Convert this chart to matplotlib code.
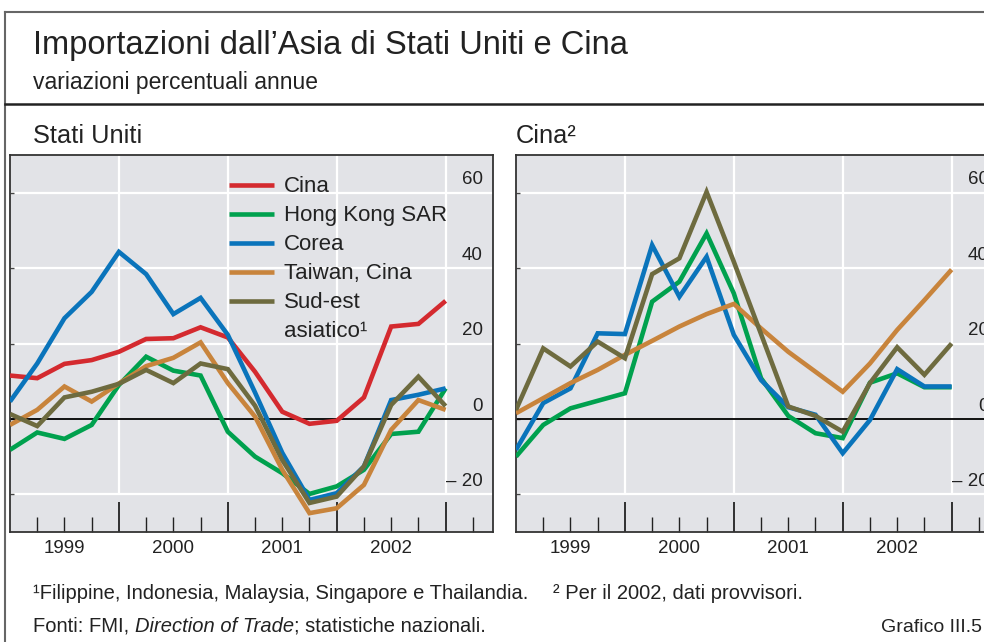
import numpy as np
import pandas as pd
import matplotlib
matplotlib.use('Agg')
import matplotlib.pyplot as plt
import matplotlib.transforms as mtransforms
from matplotlib.lines import Line2D
from matplotlib.text import Annotation

plt.rcParams['font.family'] = ['Liberation Sans', 'DejaVu Sans']

# quarterly observations 1998Q4 .. 2002Q4, plotted at quarter end
periods = pd.period_range('1998Q4', '2002Q4', freq='Q')
xq = np.asarray(periods.year + periods.quarter / 4.0, dtype=float)

series_names = ['Cina', 'Hong Kong SAR', 'Corea', 'Taiwan, Cina', 'Sud-est']
series_colors = ['#d42a2f', '#00a14e', '#0a74bb', '#c8843c', '#6e6b3f']

# Stati Uniti: imports from ...
us_cina = [11.5, 10.8, 14.6, 15.6, 17.8, 21.2, 21.4, 24.3, 21.6, 12.5, 1.9, -1.3, -0.5, 5.7, 24.5, 25.2, 31.3]
us_hk = [-8.2, -3.6, -5.3, -1.6, 9.0, 16.5, 12.8, 11.5, -3.4, -10.0, -14.4, -19.9, -17.9, -13.5, -4.0, -3.4, 8.1]
us_corea = [4.6, 14.7, 26.7, 33.7, 44.3, 38.4, 27.8, 32.1, 22.3, 7.0, -9.0, -21.5, -19.7, -12.6, 5.0, 6.4, 8.1]
us_taiwan = [-1.6, 2.4, 8.6, 4.6, 9.4, 14.0, 16.2, 20.3, 9.5, 0.6, -13.5, -25.0, -23.7, -17.5, -2.9, 5.0, 2.4]
us_sudest = [1.3, -1.9, 5.7, 7.2, 9.3, 13.0, 9.5, 14.7, 13.2, 3.5, -10.9, -22.3, -20.6, -12.6, 3.7, 11.2, 3.4]

# Cina: imports from ...
cn_hk = [-10.0, -1.6, 2.8, 4.8, 6.8, 31.1, 36.4, 49.2, 33.3, 10.8, 0.8, -3.8, -5.1, 9.6, 12.1, 8.4, 8.4]
cn_corea = [-8.2, 4.2, 8.1, 22.7, 22.5, 46.1, 32.4, 43.0, 22.3, 10.3, 3.1, 1.1, -9.1, -0.3, 13.2, 8.6, 8.6]
cn_taiwan = [1.5, 5.5, 9.5, 13.0, 17.0, 20.7, 24.5, 27.8, 30.5, 24.0, 17.8, 12.5, 7.2, 14.7, 23.6, 31.5, 39.6]
cn_sudest = [2.4, 18.7, 13.9, 20.5, 16.1, 38.4, 42.6, 60.2, 41.7, 22.5, 3.3, 0.8, -3.4, 9.5, 19.0, 11.7, 20.0]

y_ticks = [-20, 0, 20, 40, 60]
y_labels = ['\u2013 20', '0', '20', '40', '60']
years = [1999, 2000, 2001, 2002]

BG = '#e2e3e7'
TXT = '#222222'
W, H = 984, 642


def ax_rect(left, top, right, bottom):
    return [left / W, 1 - bottom / H, (right - left) / W, (bottom - top) / H]


def draw_panel(ax, lines):
    ax.set_facecolor(BG)
    for v in [-20, 20, 40, 60]:
        ax.axhline(v, color='white', lw=1.6, zorder=1)
    ax.vlines([y + 1 for y in years], -20, 70, color='white', lw=1.6, zorder=1)
    ax.axhline(0, color='black', lw=1.3, zorder=2)
    for vals, color, name in lines:
        ax.plot(xq, vals, color=color, lw=3.3, zorder=3, label=name,
                solid_joinstyle='miter', solid_capstyle='butt')

    ax.set_xticks([y + 1 for y in years])
    ax.set_xticks([y + q / 4 for y in years for q in (1, 2, 3)] + [2003.25], minor=True)
    ax.tick_params(axis='x', which='major', direction='in', length=21.5, width=1.3,
                   color=TXT, labelbottom=False)
    ax.tick_params(axis='x', which='minor', direction='in', length=10.8, width=1.0,
                   color=TXT)
    ax.set_yticks(y_ticks)
    ax.tick_params(axis='y', direction='in', length=3, width=1.0, color='#444444',
                   labelleft=False)
    ax.set_xlim(1999.0, 2003.435)
    ax.set_ylim(-30, 70)
    for s in ax.spines.values():
        s.set_color('#333333')
        s.set_linewidth(1.3)

    trans = mtransforms.blended_transform_factory(ax.transAxes, ax.transData)
    for v, lab in zip(y_ticks, y_labels):
        ax.text(0.979, v + 2.2, lab, transform=trans, ha='right', va='baseline',
                fontsize=13.5, color=TXT)
    for y in years:
        ax.text(y + 0.5, -35.6, str(y), ha='center', va='baseline', fontsize=13.5,
                color=TXT, clip_on=False)


fig = plt.figure(figsize=(W / 100, H / 100), dpi=100)

ax1 = fig.add_axes(ax_rect(10, 155, 493, 532))
ax2 = fig.add_axes(ax_rect(516, 155, 999, 532))

us_vals = [us_cina, us_hk, us_corea, us_taiwan, us_sudest]
draw_panel(ax1, list(zip(us_vals, series_colors, series_names)))

cn_vals = [cn_hk, cn_corea, cn_taiwan, cn_sudest]
draw_panel(ax2, list(zip(cn_vals, series_colors[1:], series_names[1:])))

leg = ax1.legend(loc='upper left', bbox_to_anchor=(0.453, 0.943), frameon=False,
                 fontsize=16, handlelength=2.05, handletextpad=0.45,
                 labelspacing=0.36, borderpad=0, borderaxespad=0)
for t in leg.get_texts():
    t.set_color(TXT)
# second line of the last legend label (figure-level so it is drawn after the legend)
fig.add_artist(Annotation('asiatico\u00b9', xy=(0, 0), xycoords=leg.get_texts()[-1],
                          xytext=(0, -20.2), textcoords='offset points', fontsize=16,
                          color=TXT, ha='left', va='bottom'))

# frame lines
fig.add_artist(Line2D([5 / W, 1], [1 - 12 / H, 1 - 12 / H], color='#666666', lw=1.5))
fig.add_artist(Line2D([5 / W, 5 / W], [0, 1 - 12 / H], color='#666666', lw=1.5))
fig.add_artist(Line2D([5 / W, 1], [1 - 104 / H, 1 - 104 / H], color=TXT, lw=1.8))

fig.text(33 / W, 1 - 54 / H, 'Importazioni dall\u2019Asia di Stati Uniti e Cina',
         fontsize=23.5, va='baseline', color=TXT)
fig.text(33 / W, 1 - 89 / H, 'variazioni percentuali annue', fontsize=16.5,
         va='baseline', color=TXT)
fig.text(33 / W, 1 - 143 / H, 'Stati Uniti', fontsize=18.3, va='baseline', color=TXT)
fig.text(516 / W, 1 - 143 / H, 'Cina\u00b2', fontsize=18.3, va='baseline', color=TXT)

fs_note = 14.5
fig.text(33 / W, 1 - 599 / H,
         '\u00b9Filippine, Indonesia, Malaysia, Singapore e Thailandia.',
         fontsize=fs_note, va='baseline', color=TXT)
fig.text(553 / W, 1 - 599 / H, '\u00b2 Per il 2002, dati provvisori.',
         fontsize=fs_note, va='baseline', color=TXT)
t1 = fig.text(33 / W, 1 - 632 / H, 'Fonti: FMI, ', fontsize=fs_note, va='baseline',
              color=TXT)
t2 = ax1.annotate('Direction of Trade', xy=(1, 0), xycoords=t1, fontsize=fs_note,
                  style='italic', va='bottom', color=TXT, annotation_clip=False)
ax1.annotate('; statistiche nazionali.', xy=(1, 0), xycoords=t2, fontsize=fs_note,
             va='bottom', color=TXT, annotation_clip=False)
fig.text(0.998, 1 - 632 / H, 'Grafico III.5', fontsize=14, va='baseline',
         ha='right', color=TXT)

fig.savefig('out.png', dpi=100)
